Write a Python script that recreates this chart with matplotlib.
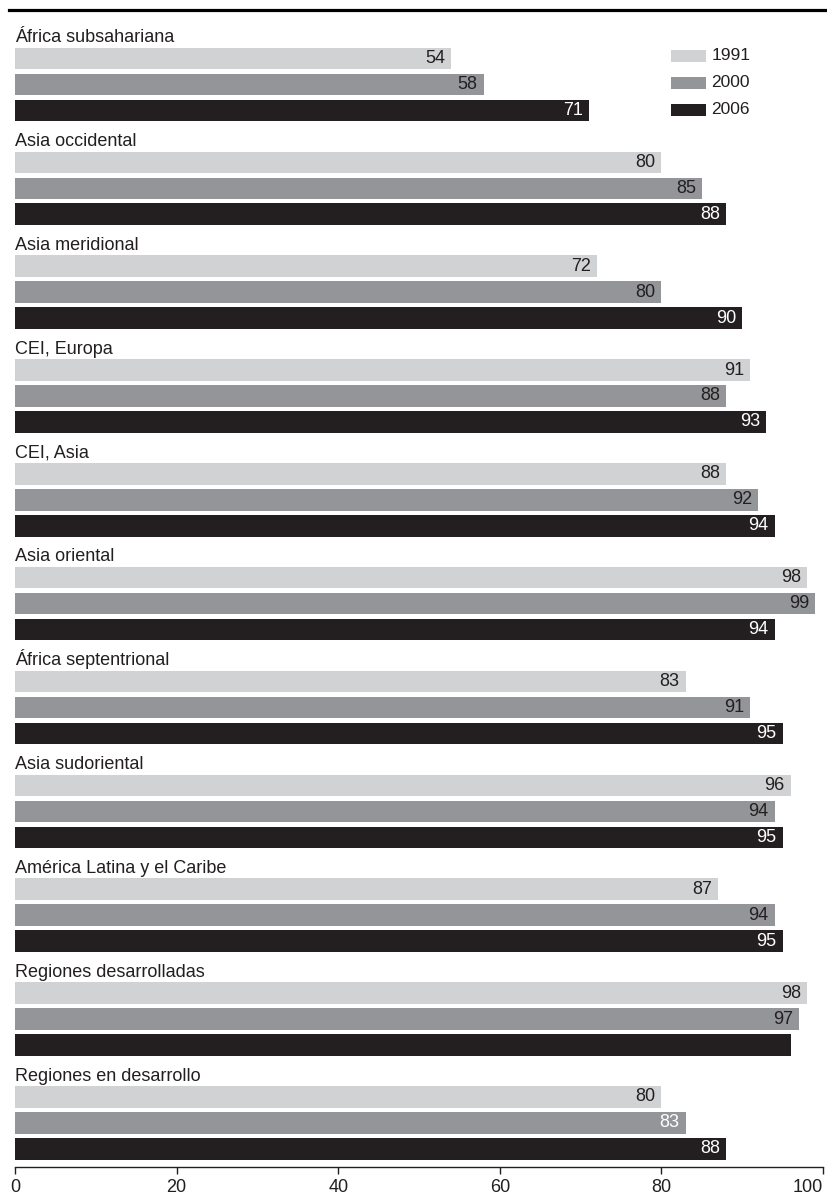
import matplotlib
matplotlib.use('Agg')
import matplotlib.pyplot as plt
import numpy as np
from matplotlib.lines import Line2D
from matplotlib.patches import Rectangle

plt.rcParams['font.family'] = ['Liberation Sans', 'DejaVu Sans']

regions = ['África subsahariana', 'Asia occidental', 'Asia meridional', 'CEI, Europa',
           'CEI, Asia', 'Asia oriental', 'África septentrional', 'Asia sudoriental',
           'América Latina y el Caribe', 'Regiones desarrolladas', 'Regiones en desarrollo']
years = ['1991', '2000', '2006']
v1991 = [54, 80, 72, 91, 88, 98, 83, 96, 87, 98, 80]
v2000 = [58, 85, 80, 88, 92, 99, 91, 94, 94, 97, 83]
v2006 = [71, 88, 90, 93, 94, 94, 95, 95, 95, 96, 88]
# the source prints no number on the 2006 bar of "Regiones desarrolladas"
hidden_labels = {(2, 9)}
xticks = [0, 20, 40, 60, 80, 100]

# -------------------------------------------------------------------------
# layout (pixels of the 827x1199 output)
W, H = 827, 1199
x0px, x1px = 15, 823
ppu = 25.96            # pixels per bar slot
first_center = 58.5
axis_px = 1167

colors = ['#d1d2d4', '#939598', '#231f20']
label_colors = ['#231f20', '#231f20', 'white']
white_override = {(1, 10)}
dark = '#231f20'
fs = 13

fig = plt.figure(figsize=(W / 100, H / 100), dpi=100)
ax = fig.add_axes([x0px / W, (H - axis_px) / H, (x1px - x0px) / W, axis_px / H])
ax.set_xlim(0, 100)
ax.set_ylim((axis_px - first_center) / ppu, -first_center / ppu)

series = [v1991, v2000, v2006]
n = len(regions)
for j, vals in enumerate(series):
    ys = np.arange(n) * 4 + j
    bars = ax.barh(ys, vals, height=0.83, color=colors[j], left=0)
    for i, (b, v) in enumerate(zip(bars, vals)):
        if (j, i) in hidden_labels:
            continue
        c = 'white' if (j, i) in white_override else label_colors[j]
        ax.annotate(f'{v}', xy=(v, ys[i]), xytext=(-4.3, 0), textcoords='offset points',
                    ha='right', va='center', fontsize=fs, color=c)

for i, name in enumerate(regions):
    ax.text(0, i * 4 - 0.63, name, ha='left', va='baseline', fontsize=fs, color=dark)

# legend
for j, y in enumerate(years):
    ax.add_patch(Rectangle((81.2, j * 1.04 - 0.34), 4.35, 0.47, color=colors[j], lw=0))
    ax.text(86.2, j * 1.04 - 0.1, y, ha='left', va='center', fontsize=12.5, color=dark)

for s in ['left', 'top', 'right']:
    ax.spines[s].set_visible(False)
ax.spines['bottom'].set_linewidth(1.0)
ax.spines['bottom'].set_color(dark)
ax.set_yticks([])
ax.set_xticks(xticks)
ax.set_xticklabels([str(t) for t in xticks])
ax.tick_params(axis='x', direction='out', length=5, width=1, pad=3.5,
               labelsize=fs, colors=dark)
tl = ax.get_xticklabels()
tl[-1].set_ha('right')

# heavy rule at the top
fig.add_artist(Line2D([9 / W, 1], [1 - 10 / H] * 2, lw=2.3, color='black'))

fig.savefig('out.png', dpi=100)
